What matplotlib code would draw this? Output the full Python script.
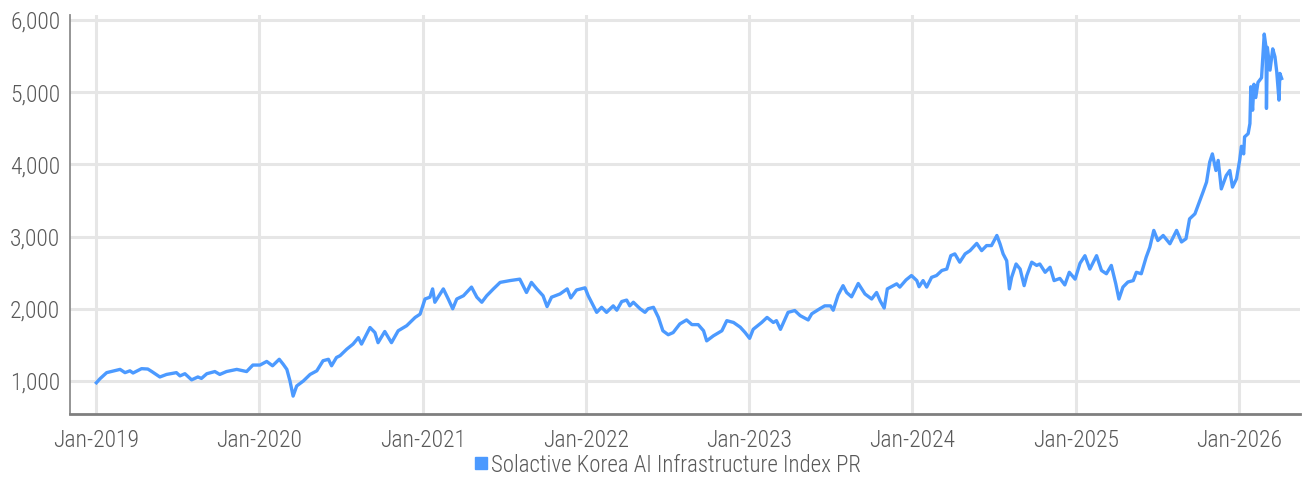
import matplotlib
matplotlib.use("Agg")
import matplotlib.pyplot as plt
from matplotlib import font_manager as fm
from matplotlib.lines import Line2D
from matplotlib.ticker import FuncFormatter, FixedLocator
import pandas as pd

# ---------------- data ----------------
dates = [
    "2019-01-02", "2019-01-10", "2019-01-25", "2019-02-24", "2019-03-07", "2019-03-18", "2019-03-25",
    "2019-04-13", "2019-04-27", "2019-05-06", "2019-05-24", "2019-06-08", "2019-06-30", "2019-07-08",
    "2019-07-19", "2019-08-03", "2019-08-17", "2019-08-25", "2019-09-06", "2019-09-24", "2019-10-05",
    "2019-10-20", "2019-11-12", "2019-12-04", "2019-12-18",
    "2020-01-03", "2020-01-18", "2020-01-31", "2020-02-15", "2020-02-24", "2020-03-03", "2020-03-10",
    "2020-03-17", "2020-03-25", "2020-04-09", "2020-04-24", "2020-05-09", "2020-05-23", "2020-06-04",
    "2020-06-11", "2020-06-22", "2020-06-30", "2020-07-15", "2020-07-29", "2020-08-10", "2020-08-17",
    "2020-09-05", "2020-09-16", "2020-09-23", "2020-10-08", "2020-10-23", "2020-11-07", "2020-11-26",
    "2020-12-15", "2020-12-26",
    "2021-01-06", "2021-01-17", "2021-01-23", "2021-01-28", "2021-02-16", "2021-02-27", "2021-03-09",
    "2021-03-18", "2021-04-02", "2021-04-20", "2021-05-02", "2021-05-13", "2021-05-24", "2021-06-08",
    "2021-06-23", "2021-07-15", "2021-08-06", "2021-08-21", "2021-09-01", "2021-09-13", "2021-09-27",
    "2021-10-06", "2021-10-16", "2021-11-04", "2021-11-20", "2021-11-28", "2021-12-11", "2021-12-30",
    "2022-01-06", "2022-01-25", "2022-02-05", "2022-02-16", "2022-03-03", "2022-03-11", "2022-03-22",
    "2022-04-02", "2022-04-09", "2022-04-17", "2022-05-02", "2022-05-13", "2022-05-20", "2022-06-01",
    "2022-06-12", "2022-06-22", "2022-07-04", "2022-07-15", "2022-07-30", "2022-08-14", "2022-08-26",
    "2022-09-09", "2022-09-21", "2022-09-28", "2022-10-13", "2022-11-01", "2022-11-12", "2022-11-27",
    "2022-12-12", "2022-12-23",
    "2023-01-02", "2023-01-10", "2023-01-29", "2023-02-10", "2023-02-24", "2023-03-03", "2023-03-12",
    "2023-03-29", "2023-04-13", "2023-04-25", "2023-05-13", "2023-05-21", "2023-06-08", "2023-06-19",
    "2023-07-02", "2023-07-08", "2023-07-19", "2023-07-30", "2023-08-07", "2023-08-18", "2023-09-02",
    "2023-09-17", "2023-10-02", "2023-10-13", "2023-10-21", "2023-10-30", "2023-11-06", "2023-11-27",
    "2023-12-04", "2023-12-18", "2023-12-30",
    "2024-01-11", "2024-01-16", "2024-01-25", "2024-02-02", "2024-02-13", "2024-02-24", "2024-03-07",
    "2024-03-18", "2024-03-27", "2024-04-05", "2024-04-16", "2024-04-28", "2024-05-09", "2024-05-24",
    "2024-06-04", "2024-06-15", "2024-06-26", "2024-07-08", "2024-07-15", "2024-07-22", "2024-07-30",
    "2024-08-05", "2024-08-10", "2024-08-20", "2024-08-29", "2024-09-07", "2024-09-13", "2024-09-24",
    "2024-10-05", "2024-10-12", "2024-10-24", "2024-11-04", "2024-11-13", "2024-11-26", "2024-12-07",
    "2024-12-17", "2024-12-30",
    "2025-01-10", "2025-01-21", "2025-02-01", "2025-02-16", "2025-02-27", "2025-03-10", "2025-03-21",
    "2025-03-31", "2025-04-07", "2025-04-16", "2025-04-27", "2025-05-09", "2025-05-16", "2025-05-27",
    "2025-06-07", "2025-06-15", "2025-06-24", "2025-07-03", "2025-07-15", "2025-07-30", "2025-08-14",
    "2025-08-25", "2025-09-04", "2025-09-12", "2025-09-24", "2025-10-01", "2025-10-12", "2025-10-20",
    "2025-10-27", "2025-11-02", "2025-11-10", "2025-11-15", "2025-11-22", "2025-12-03", "2025-12-11",
    "2025-12-17", "2025-12-26",
    "2026-01-02", "2026-01-06", "2026-01-11", "2026-01-13", "2026-01-21", "2026-01-25", "2026-01-27",
    "2026-01-31", "2026-02-03", "2026-02-07", "2026-02-12", "2026-02-20", "2026-02-26", "2026-03-02",
    "2026-03-03", "2026-03-05", "2026-03-11", "2026-03-17", "2026-03-22", "2026-03-26", "2026-03-31",
    "2026-04-02", "2026-04-06",
]

index_values = [
    975, 1030, 1115, 1160, 1115, 1140, 1110,
    1170, 1165, 1130, 1055, 1090, 1115, 1070,
    1100, 1015, 1055, 1035, 1100, 1130, 1090,
    1130, 1160, 1130, 1220,
    1220, 1270, 1210, 1300, 1230, 1160, 1000,
    790, 930, 1000, 1090, 1140, 1280, 1300,
    1210, 1325, 1350, 1440, 1510, 1600, 1510,
    1740, 1670, 1530, 1685, 1530, 1695, 1765,
    1880, 1925,
    2135, 2160, 2275, 2090, 2275, 2135, 2000,
    2135, 2180, 2300, 2160, 2090, 2180, 2275,
    2365, 2390, 2410, 2225, 2365, 2275, 2180,
    2030, 2160, 2205, 2275, 2150, 2260, 2290,
    2180, 1950, 2020, 1950, 2040, 1980, 2100,
    2120, 2040, 2090, 2000, 1950, 2000, 2020,
    1880, 1695, 1640, 1670, 1790, 1845, 1780,
    1780, 1695, 1555, 1625, 1695, 1835, 1810,
    1745, 1670,
    1590, 1715, 1810, 1880, 1810, 1835, 1715,
    1950, 1975, 1905, 1845, 1930, 2000, 2040,
    2040, 1980, 2190, 2320, 2225, 2165, 2350,
    2205, 2135, 2225, 2110, 2010, 2275, 2345,
    2300, 2400, 2460,
    2390, 2305, 2390, 2300, 2435, 2460, 2530,
    2550, 2735, 2760, 2645, 2760, 2805, 2905,
    2805, 2875, 2875, 3015, 2900, 2760, 2665,
    2275, 2435, 2620, 2550, 2320, 2460, 2645,
    2600, 2620, 2505, 2575, 2390, 2420, 2330,
    2505, 2410,
    2630, 2735, 2550, 2735, 2530, 2485, 2600,
    2345, 2135, 2300, 2370, 2390, 2505, 2485,
    2715, 2850, 3085, 2945, 3015, 2900, 3085,
    2925, 2970, 3245, 3315, 3430, 3615, 3755,
    4030, 4145, 3915, 4055, 3660, 3845, 3915,
    3685, 3800,
    4055, 4250, 4145, 4380, 4425, 4565, 5075,
    4750, 5110, 4925, 5135, 5200, 5805, 5620,
    4775, 5620, 5305, 5600, 5490, 5280, 4890,
    5260, 5190,
]

series_name = "Solactive Korea AI Infrastructure Index PR"
y_ticks = [1000, 2000, 3000, 4000, 5000, 6000]
x_tick_years = [2019, 2020, 2021, 2022, 2023, 2024, 2025, 2026]

# ---------------- font selection ----------------
names = {f.name for f in fm.fontManager.ttflist}
family = "DejaVu Sans"
stretch = "normal"
for cand in ["Roboto Condensed", "Liberation Sans Narrow", "Open Sans Condensed",
             "DejaVu Sans Condensed", "Roboto"]:
    if cand in names:
        family = cand
        break
if family == "DejaVu Sans":
    stretch = "condensed"
plt.rcParams["font.family"] = [family, "DejaVu Sans"]
plt.rcParams["font.stretch"] = stretch

TEXT_COLOR = "#595959"
LINE_COLOR = "#4C9AFF"
GRID_COLOR = "#E6E6E6"
FS = 17

# ---------------- figure ----------------
fig = plt.figure(figsize=(13.04, 4.98), dpi=100)
ax = fig.add_axes([70 / 1304, 1 - 414 / 498, (1300 - 70) / 1304, (414 - 15) / 498])

x = pd.to_datetime(dates)
ax.plot(x, index_values, color=LINE_COLOR, lw=2.4, solid_joinstyle="round", zorder=3)

ax.set_xlim(pd.Timestamp("2018-11-04"), pd.Timestamp("2026-05-17"))
ax.set_ylim(542, 6069)

ax.yaxis.set_major_locator(FixedLocator(y_ticks))
ax.yaxis.set_major_formatter(FuncFormatter(lambda v, p: f"{v:,.0f}"))
xt = [pd.Timestamp(f"{y}-01-01") for y in x_tick_years]
ax.set_xticks(xt)
ax.set_xticklabels([f"Jan-{y}" for y in x_tick_years])

ax.grid(True, color=GRID_COLOR, lw=2.2, zorder=0)
ax.set_axisbelow(True)

for s in ["top", "right"]:
    ax.spines[s].set_visible(False)
ax.spines["left"].set_color("#8C8C8C")
ax.spines["left"].set_linewidth(1.3)
ax.spines["bottom"].set_color("#7F7F7F")
ax.spines["bottom"].set_linewidth(2.0)

ax.tick_params(axis="both", length=0, colors=TEXT_COLOR, labelsize=FS)
ax.tick_params(axis="y", pad=7)
ax.tick_params(axis="x", pad=10.5)
for lab in ax.get_xticklabels() + ax.get_yticklabels():
    lab.set_fontweight("light")

handle = Line2D([], [], color=LINE_COLOR, marker="s", ls="none", markersize=8)
leg = fig.legend([handle], [series_name], loc="center", bbox_to_anchor=(667 / 1304, 1 - 465 / 498),
                 frameon=False, fontsize=16.5, handletextpad=0.05, handlelength=0.7, borderpad=0)
for t in leg.get_texts():
    t.set_color(TEXT_COLOR)
    t.set_fontweight("light")

fig.savefig("out.png", dpi=100)
